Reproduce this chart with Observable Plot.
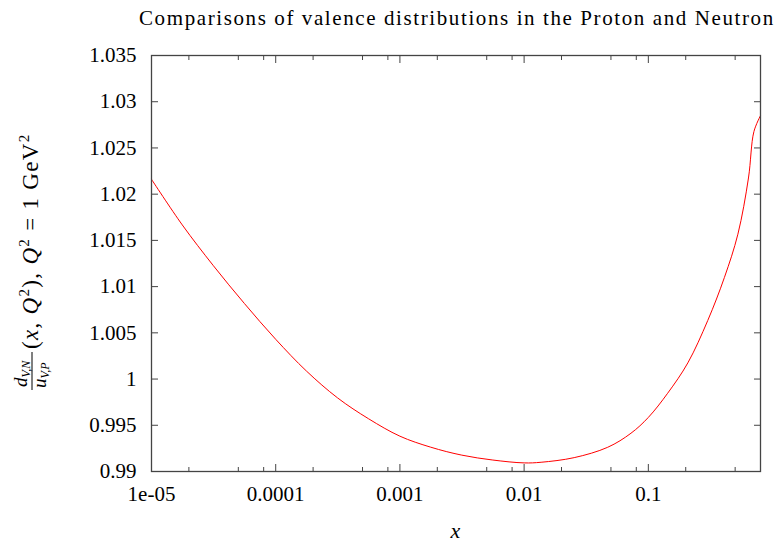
<!DOCTYPE html>
<html><head><meta charset="utf-8">
<script src="https://cdn.jsdelivr.net/npm/d3@7"></script>
<script src="https://cdn.jsdelivr.net/npm/@observablehq/plot@0.6"></script>
<style>
body{margin:0;background:#fff;width:776px;height:544px;overflow:hidden;}
#title{height:40px;position:relative;font-family:"Liberation Serif",serif;font-size:21px;color:#000;}
#title span{position:absolute;left:139px;top:6px;white-space:nowrap;letter-spacing:1.6px;}
#chart svg{display:block;}
</style></head><body>
<div id="title"><span>Comparisons of valence distributions in the Proton and Neutron</span></div>
<div id="chart"></div>
<script>
// data
const xValues = [1e-5, 1.77e-5, 3.15e-5, 5.6e-5, 1e-4, 1.77e-4, 3.15e-4, 5.6e-4, 1e-3, 1.77e-3, 3.15e-3, 5.6e-3, 0.01, 0.0137, 0.0253, 0.0471, 0.0725, 0.1, 0.143, 0.208, 0.301, 0.41, 0.526, 0.64, 0.708, 0.8];
const ratioValues = [1.02161, 1.01667, 1.01226, 1.00817, 1.0043, 1.00086, 0.99796, 0.9957, 0.99382, 0.99263, 0.99177, 0.99124, 0.99093, 0.9910, 0.99150, 0.99262, 0.99414, 0.99585, 0.99846, 1.00175, 1.00634, 1.0110, 1.01567, 1.02175, 1.02677, 1.0285];
const xMajorTicks = [1e-5, 1e-4, 1e-3, 1e-2, 1e-1];
const xMajorLabels = ["1e-05", "0.0001", "0.001", "0.01", "0.1"];
const xMinorTicks = [2e-5, 5e-5, 8e-5, 2e-4, 5e-4, 8e-4, 2e-3, 5e-3, 8e-3, 2e-2, 5e-2, 8e-2, 0.2, 0.5];
const yTicks = [0.99, 0.995, 1.0, 1.005, 1.01, 1.015, 1.02, 1.025, 1.03, 1.035];
const yTickLabels = ["0.99", "0.995", "1", "1.005", "1.01", "1.015", "1.02", "1.025", "1.03", "1.035"];

const data = xValues.map((x, i) => ({x, y: ratioValues[i]}));
const xLab = new Map(xMajorTicks.map((t, i) => [t, xMajorLabels[i]]));
const yLab = new Map(yTicks.map((t, i) => [t, yTickLabels[i]]));
const axisColor = "#444";

function yLabel() {
  const g = d3.create("svg:g")
    .attr("transform", "translate(38,350) rotate(-90)")
    .attr("font-family", "Liberation Serif, serif")
    .attr("text-anchor", "start")
    .attr("fill", "#000");
  const num = g.append("text").attr("x", 3).attr("y", -11).attr("font-size", 19);
  num.append("tspan").attr("font-style", "italic").text("d");
  num.append("tspan").attr("font-size", 12).attr("dy", 3).attr("font-style", "italic").text("V,N");
  g.append("line").attr("x1", 0).attr("x2", 38).attr("y1", -6).attr("y2", -6).attr("stroke", "#000").attr("stroke-width", 1);
  const den = g.append("text").attr("x", 2).attr("y", 8).attr("font-size", 19);
  den.append("tspan").attr("font-style", "italic").text("u");
  den.append("tspan").attr("font-size", 12).attr("dy", 3).attr("font-style", "italic").text("V,P");
  const t = g.append("text").attr("x", 41).attr("y", 0).attr("font-size", 23).attr("letter-spacing", 1.3);
  t.append("tspan").text("(");
  t.append("tspan").attr("font-style", "italic").text("x");
  t.append("tspan").text(", ");
  t.append("tspan").attr("font-style", "italic").text("Q");
  t.append("tspan").attr("font-size", 15).attr("dy", -9).text("2");
  t.append("tspan").attr("dy", 9).text("), ");
  t.append("tspan").attr("font-style", "italic").text("Q");
  t.append("tspan").attr("font-size", 15).attr("dy", -9).text("2");
  t.append("tspan").attr("dy", 9).text(" = 1 GeV");
  t.append("tspan").attr("font-size", 15).attr("dy", -9).text("2");
  return g.node();
}
function xLabel(index, scales, values, dims) {
  const cx = (dims.marginLeft + dims.width - dims.marginRight) / 2;
  return d3.create("svg:text")
    .attr("x", cx).attr("y", dims.height - 6)
    .attr("text-anchor", "middle")
    .attr("font-family", "Liberation Serif, serif")
    .attr("font-style", "italic").attr("font-size", 22)
    .text("x").node();
}

const chart = Plot.plot({
  width: 776, height: 504,
  marginLeft: 151, marginRight: 16, marginTop: 15, marginBottom: 73,
  style: {fontFamily: "Liberation Serif, serif", fontSize: "21px", color: "#000", background: "#fff"},
  x: {type: "log", domain: [1e-5, 0.8]},
  y: {domain: [0.99, 1.035]},
  marks: [
    Plot.axisX(xMajorTicks, {anchor: "bottom", tickSize: -7, tickPadding: 22, stroke: axisColor, tickFormat: d => xLab.get(d), label: null}),
    Plot.axisX(xMinorTicks, {anchor: "bottom", tickSize: -4, stroke: axisColor, tickFormat: () => "", label: null}),
    Plot.axisX(xMajorTicks, {anchor: "top", tickSize: -7, stroke: axisColor, tickFormat: () => "", label: null}),
    Plot.axisX(xMinorTicks, {anchor: "top", tickSize: -4, stroke: axisColor, tickFormat: () => "", label: null}),
    Plot.axisY(yTicks, {anchor: "left", tickSize: -7, tickPadding: 22, stroke: axisColor, tickFormat: d => yLab.get(d), label: null}),
    Plot.axisY(yTicks, {anchor: "right", tickSize: -7, stroke: axisColor, tickFormat: () => "", label: null}),
    Plot.line(data, {x: "x", y: "y", stroke: "#ff0000", strokeWidth: 1, curve: "catmull-rom"}),
    Plot.frame({stroke: axisColor, strokeWidth: 1.3}),
    yLabel,
    xLabel
  ]
});
document.getElementById("chart").appendChild(chart);
</script>
</body></html>
